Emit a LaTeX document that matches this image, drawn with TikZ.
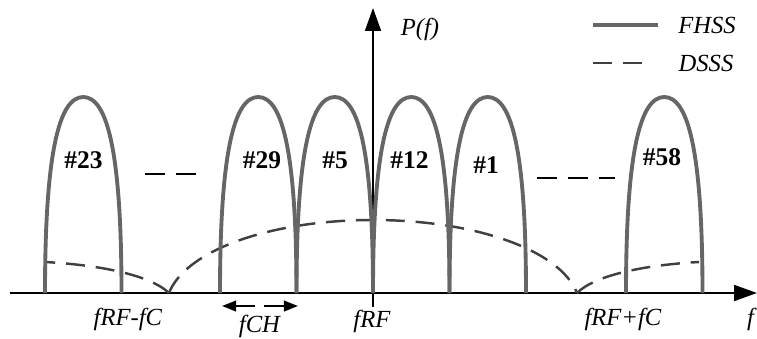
\documentclass[tikz,border=0pt]{standalone}
\usepackage{fontspec}
\setmainfont{Liberation Serif}
\usepackage{tikz}
\usetikzlibrary{arrows.meta,positioning}

\begin{document}
\begin{tikzpicture}[x=0.02cm,y=-0.02cm,
    every node/.style={font=\fontsize{14}{16}\selectfont,inner sep=0pt},
    axis/.style={line width=1.2pt,-{Triangle[length=13pt,width=9pt]}},
    fhss/.style={line width=2.2pt,draw=black!60},
    dsss/.style={line width=1.4pt,draw=black!75,dash pattern=on 10.8pt off 6.2pt},
    hop/.style={line width=1.4pt,dash pattern=on 11.3pt off 6.2pt},
    lobe/.pic={\draw[fhss] (0,0) .. controls (0,-140) and (14,-196) .. (38.25,-196)
        .. controls (62.5,-196) and (76.5,-140) .. (76.5,0);}]
    \useasboundingbox (0,0) rectangle (757,338);
    % axes
    \coordinate (x0) at (10,293); \coordinate (x1) at (757,293);
    \coordinate (y0) at (373,307); \coordinate (y1) at (373,8);
    \draw[axis] (x0) -- (x1);
    \draw[axis] (y0) -- (y1);
    \node[anchor=base] (pf) at (420,35) {\textit{P(f)}};
    % DSSS spectrum
    \coordinate (c1) at (169,293); \coordinate (c2) at (577,293);
    \draw[dsss] (c1) .. controls (150,275) and (100,265) .. (45,262);
    \draw[dsss] (c1) .. controls (186,250) and (271,220) .. (373,220)
        .. controls (475,220) and (560,250) .. (c2);
    \draw[dsss] (c2) .. controls (595,275) and (645,265) .. (699,262);
    % FHSS channels
    \foreach \a in {45,220,296.5,373,449.5,626} \pic at (\a,293) {lobe};
    \foreach \x/\y/\t in {83.5/168/23,262/168/29,335/168/5,409.5/168/12,486/173/1,662/165/58}
        \node[anchor=base,font=\fontsize{14.5}{16}\selectfont\bfseries] (ch\t) at (\x,\y) {\#\t};
    \draw[hop] (145,174) -- (196,174);
    \draw[hop] (537,178) -- (615,178);
    % channel width
    \coordinate (wl) at (222,306); \coordinate (wr) at (298,306);
    \draw[line width=1.2pt,-{Triangle[length=8pt,width=6pt]}] (255,306) -- (wl);
    \draw[line width=1.2pt,-{Triangle[length=8pt,width=6pt]}] (264,306) -- (wr);
    % frequency labels
    \node[anchor=base] (flo) at (128,325) {\textit{fRF-fC}};
    \node[anchor=base] (fch) at (260,332) {\textit{fCH}};
    \node[anchor=base] (frf) at (372,327) {\textit{fRF}};
    \node[anchor=base] (fhi) at (623,325) {\textit{fRF+fC}};
    \node[anchor=base] (fax) at (752,325) {\textit{f}};
    % legend
    \draw[fhss] (593,25) -- (658,25);
    \node[anchor=base] (lf) at (707,33) {\textit{FHSS}};
    \draw[dsss] (593,63) -- (642,63);
    \node[anchor=base] (ld) at (706,71) {\textit{DSSS}};
\end{tikzpicture}
\end{document}
